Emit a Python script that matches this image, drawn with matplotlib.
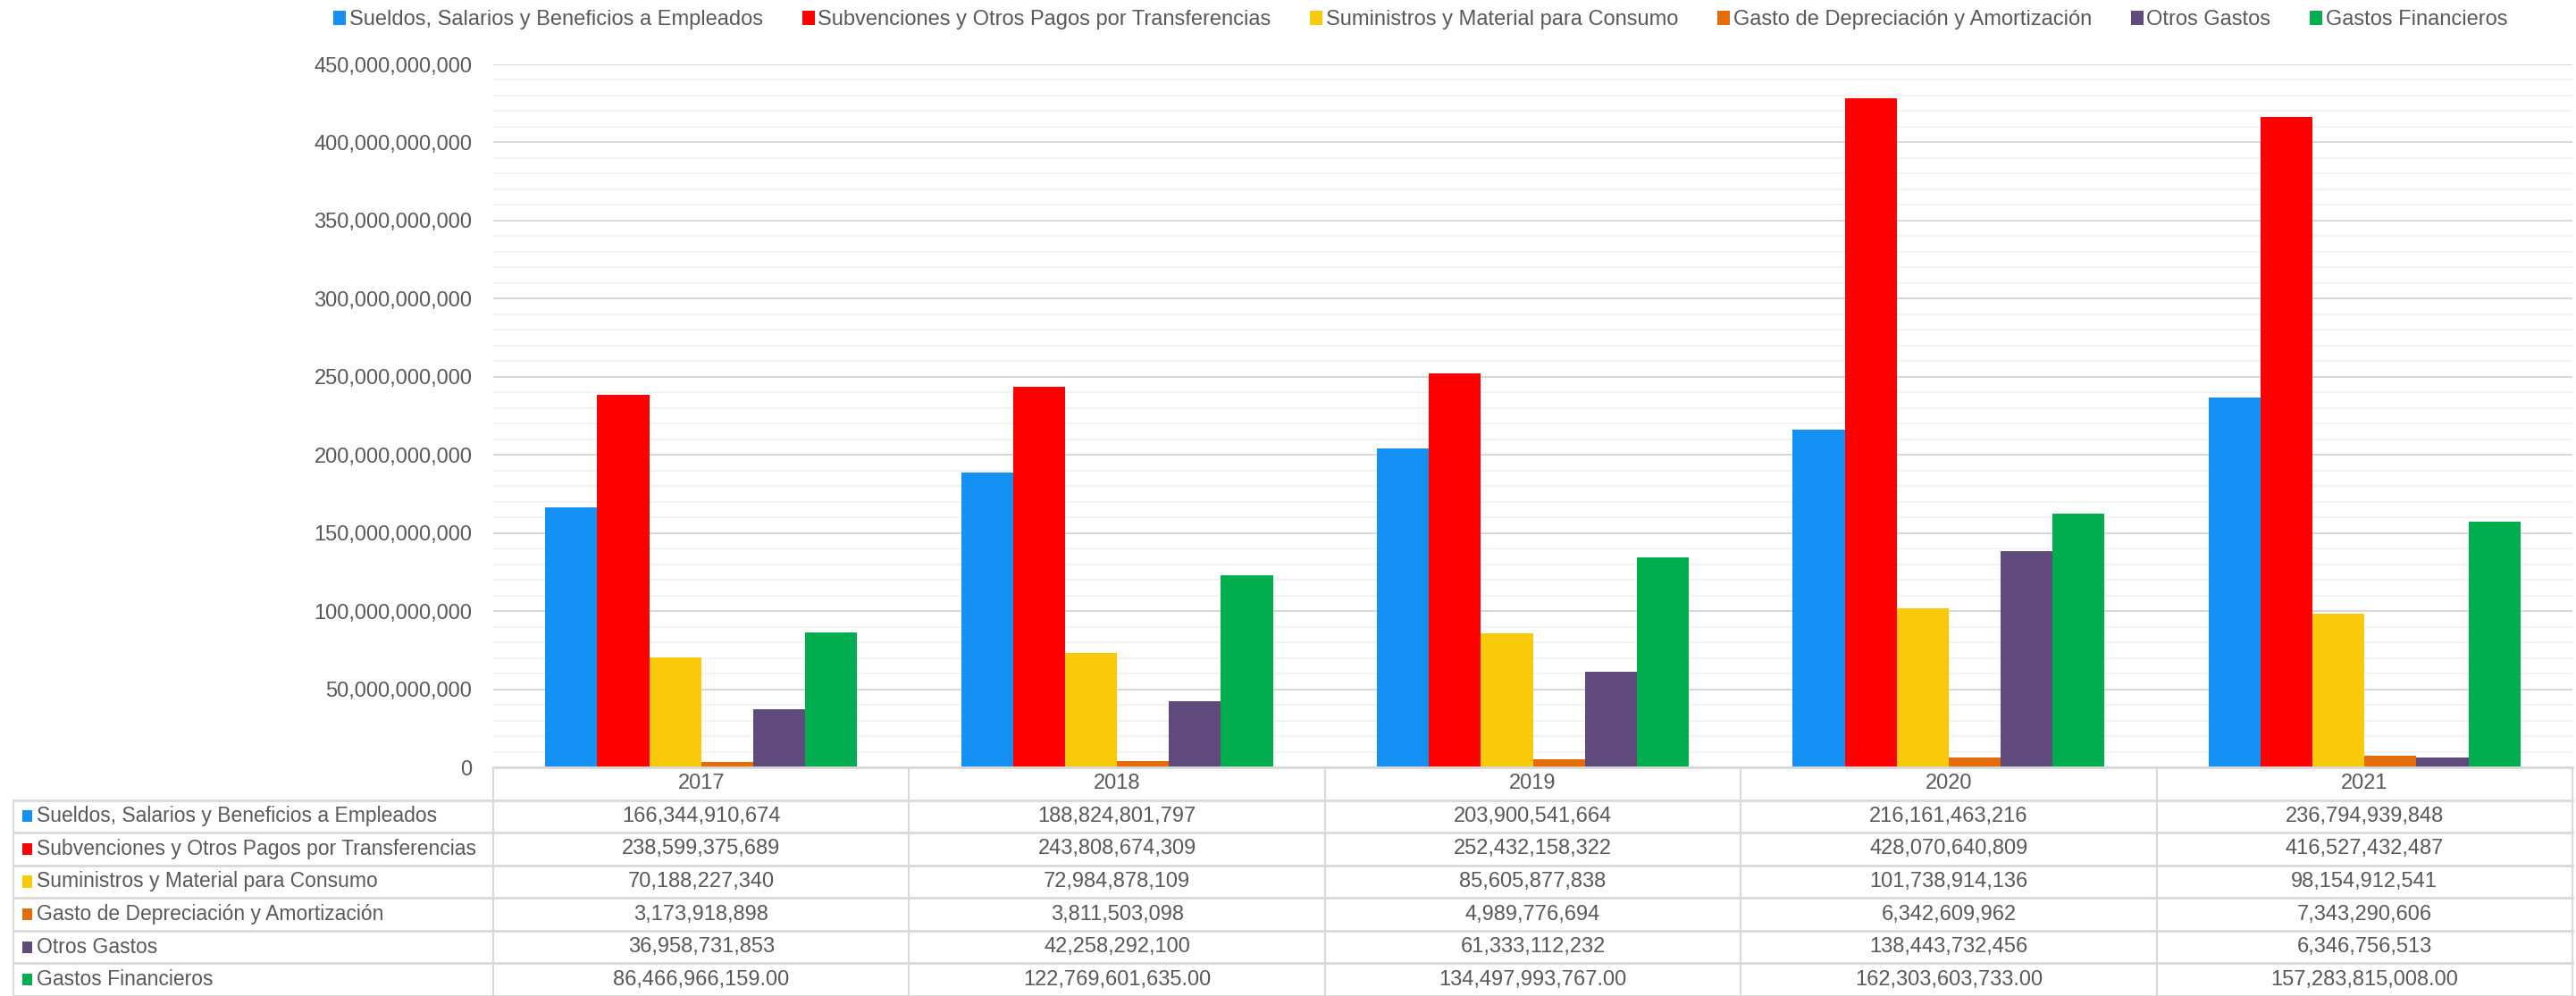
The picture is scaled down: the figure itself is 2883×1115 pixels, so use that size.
import matplotlib.pyplot as plt
from matplotlib.patches import Patch, Rectangle
from matplotlib.ticker import MultipleLocator, FuncFormatter
import numpy as np

plt.rcParams['font.family'] = ['Liberation Sans', 'DejaVu Sans']

years = ['2017', '2018', '2019', '2020', '2021']
series = ['Sueldos, Salarios y Beneficios a Empleados',
          'Subvenciones y Otros Pagos por Transferencias',
          'Suministros y Material para Consumo',
          'Gasto de Depreciación y Amortización',
          'Otros Gastos',
          'Gastos Financieros']
sueldos = [166344910674, 188824801797, 203900541664, 216161463216, 236794939848]
subvenciones = [238599375689, 243808674309, 252432158322, 428070640809, 416527432487]
suministros = [70188227340, 72984878109, 85605877838, 101738914136, 98154912541]
depreciacion = [3173918898, 3811503098, 4989776694, 6342609962, 7343290606]
otros = [36958731853, 42258292100, 61333112232, 138443732456, 6346756513]
financieros = [86466966159.00, 122769601635.00, 134497993767.00, 162303603733.00, 157283815008.00]
decimals = [0, 0, 0, 0, 0, 2]
colors = ['#1591F5', '#FF0000', '#F9CA0B', '#E46C0A', '#604A7B', '#00AD4F']

values = [sueldos, subvenciones, suministros, depreciacion, otros, financieros]

W, H = 2883, 1115
fig = plt.figure(figsize=(W / 100, H / 100), dpi=100)
txt = '#595959'
fs = 17
grid_c = '#d9d9d9'

# plot area in pixels
x0, x1 = 552, 2879
y_zero, y_top = 859, 72
ax = fig.add_axes([x0 / W, 1 - y_zero / H, (x1 - x0) / W, (y_zero - y_top) / H])

x = np.arange(len(years))
w = 0.125
for j, vals in enumerate(values):
    ax.bar(x + (j - 2.5) * w, vals, w, color=colors[j], zorder=3)

ax.set_xlim(-0.5, len(years) - 0.5)
ax.set_ylim(0, 450e9)
ax.yaxis.set_major_locator(MultipleLocator(50e9))
ax.yaxis.set_minor_locator(MultipleLocator(10e9))
ax.yaxis.set_major_formatter(FuncFormatter(lambda v, p: f'{v:,.0f}'))
ax.grid(axis='y', which='major', color=grid_c, lw=1.5, zorder=0)
ax.grid(axis='y', which='minor', color='#f2f2f2', lw=1.5, zorder=0)
ax.tick_params(axis='y', which='both', length=0, labelsize=fs, labelcolor=txt, pad=17)
ax.tick_params(axis='x', which='both', length=0, labelbottom=False)
for s in ['top', 'right', 'left']:
    ax.spines[s].set_visible(False)
ax.spines['bottom'].set_color(grid_c)
ax.spines['bottom'].set_linewidth(2)
ax.spines['bottom'].set_zorder(4)

# legend
handles = [Patch(facecolor=c, edgecolor='none') for c in colors]
fig.legend(handles, series, loc='center', bbox_to_anchor=(0.5514, 0.980), ncol=6,
           frameon=False, fontsize=fs, labelcolor=txt, handlelength=0.6, handleheight=0.65,
           handletextpad=0.15, columnspacing=1.85)

# data table below the plot
nrows = len(series) + 1
tax = fig.add_axes([x0 / W, 0, (x1 - x0) / W, (H - y_zero) / H])
tax.set_xlim(-0.5, len(years) - 0.5)
tax.set_ylim(nrows, 0)
tax.axis('off')
lab_left = -0.5 - (x0 - 15) / (x1 - x0) * len(years)

for r in range(1, nrows + 1):
    tax.plot([lab_left, len(years) - 0.5], [r, r], color=grid_c, lw=2, clip_on=False)
for c in range(len(years) + 1):
    tax.plot([c - 0.5, c - 0.5], [0, nrows], color=grid_c, lw=1.5, clip_on=False)
tax.plot([lab_left, lab_left], [1, nrows], color=grid_c, lw=1.5, clip_on=False)

for i, yr in enumerate(years):
    tax.text(i, 0.5, yr, ha='center', va='center', fontsize=fs, color=txt)

sq_x = lab_left + 10 / (x1 - x0) * len(years)
sq_w = 11 / (x1 - x0) * len(years)
for j, name in enumerate(series):
    r = j + 1
    tax.add_patch(Rectangle((sq_x, r + 0.5 - 0.18), sq_w, 0.36, facecolor=colors[j],
                            edgecolor='none', clip_on=False))
    tax.text(sq_x + sq_w + 5 / (x1 - x0) * len(years), r + 0.5, name, ha='left', va='center',
             fontsize=16.5, color=txt, clip_on=False)
    for i, v in enumerate(values[j]):
        tax.text(i, r + 0.5, f'{v:,.{decimals[j]}f}', ha='center', va='center',
                 fontsize=fs, color=txt)

fig.savefig('out.png', dpi=100)
